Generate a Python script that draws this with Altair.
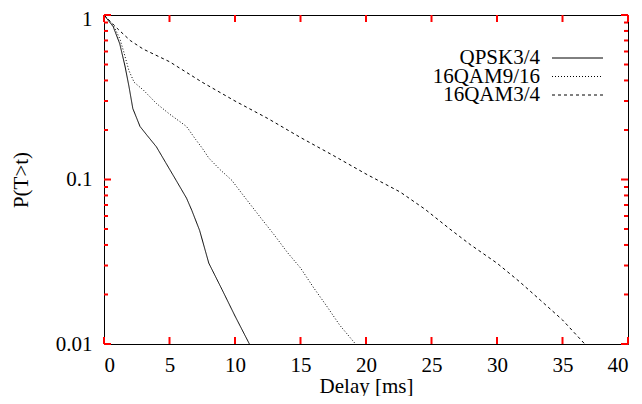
import altair as alt
import pandas as pd

series = ["QPSK3/4", "16QAM9/16", "16QAM3/4"]

qpsk_t = [0, 0.7, 1.2, 1.6, 1.9, 2.2, 2.75, 3.3, 4.0, 4.7, 5.5, 6.3, 6.7, 7.3, 8.0, 9.0, 10.0, 11.1]
qpsk_p = [1, 0.85, 0.67, 0.49, 0.37, 0.27, 0.21, 0.185, 0.158, 0.127, 0.099, 0.077, 0.065, 0.049, 0.031, 0.0215, 0.0148, 0.01]

q916_t = [0, 0.7, 1.2, 1.5, 1.9, 2.3, 3.0, 4.0, 5.0, 6.3, 7.0, 7.5, 8.0, 8.85, 9.75, 10.8, 12, 13, 14, 15, 16, 17, 18, 19.2]
q916_p = [1, 0.87, 0.72, 0.6, 0.46, 0.39, 0.35, 0.29, 0.25, 0.21, 0.175, 0.155, 0.135, 0.115, 0.099, 0.077, 0.058, 0.046, 0.036, 0.029, 0.022, 0.017, 0.013, 0.01]

q34_t = [0, 1, 2, 3, 5, 7.5, 10, 12.5, 15, 17.5, 20, 22.6, 24.5, 26.4, 28, 30, 31.7, 33.3, 35, 36.7]
q34_p = [1, 0.83, 0.70, 0.62, 0.52, 0.39, 0.30, 0.235, 0.18, 0.14, 0.108, 0.084, 0.066, 0.050, 0.040, 0.031, 0.024, 0.0185, 0.014, 0.01]

x_ticks = [0, 5, 10, 15, 20, 25, 30, 35, 40]
y_major = [0.01, 0.1, 1]
y_minor = [0.02, 0.03, 0.04, 0.05, 0.06, 0.07, 0.08, 0.09,
           0.2, 0.3, 0.4, 0.5, 0.6, 0.7, 0.8, 0.9]

dashes = [[1, 0], [1, 2], [3, 3]]

rows = []
for name, ts, ps in zip(series, [qpsk_t, q916_t, q34_t], [qpsk_p, q916_p, q34_p]):
    for t, p in zip(ts, ps):
        rows.append({"series": name, "t": t, "p": p})
df = pd.DataFrame(rows)

FONT = "Liberation Serif"
FS = 21
W, H = 524, 329
MAJ, MIN = 7, 4

xscale = alt.Scale(domain=[0, 40], nice=False, zero=False)
yscale = alt.Scale(type="log", domain=[0.01, 1], nice=False)

common = dict(domain=False, grid=False, ticks=False, tickSize=0,
              labelFont=FONT, labelFontSize=FS, labelColor="black",
              titleFont=FONT, titleFontSize=FS, titleColor="black",
              titleFontWeight="normal")

lines = alt.Chart(df).mark_line(color="black", strokeWidth=1, clip=True).encode(
    x=alt.X("t:Q", scale=xscale,
            axis=alt.Axis(orient="bottom", values=x_ticks, labelPadding=10,
                          title="Delay [ms]", titlePadding=0, **common)),
    y=alt.Y("p:Q", scale=yscale,
            axis=alt.Axis(orient="left", values=y_major, format="~g",
                          labelPadding=12, title="P(T>t)", titlePadding=24,
                          labelOffset={"condition": {"test": "datum.value >= 1", "value": 4},
                                       "value": 0},
                          **common)),
    strokeDash=alt.StrokeDash("series:N", scale=alt.Scale(domain=series, range=dashes),
                              legend=None),
)

xt_df = pd.DataFrame({"v": x_ticks})
ymaj_df = pd.DataFrame({"v": y_major})
ymin_df = pd.DataFrame({"v": y_minor})

TICK_COLOR = "red"


def xtick(y0, y1):
    return alt.Chart(xt_df).mark_rule(color=TICK_COLOR, strokeWidth=2).encode(
        x=alt.X("v:Q", scale=xscale, axis=None), y=alt.value(y0), y2=alt.value(y1))


def ytick(src, x0, x1):
    return alt.Chart(src).mark_rule(color=TICK_COLOR, strokeWidth=2).encode(
        y=alt.Y("v:Q", scale=yscale, axis=None), x=alt.value(x0), x2=alt.value(x1))


tick_layers = [
    xtick(H, H - MAJ), xtick(0, MAJ),
    ytick(ymaj_df, 0, MAJ), ytick(ymin_df, 0, MIN),
    ytick(ymaj_df, W, W - MAJ), ytick(ymin_df, W, W - MIN),
]

legend_layers = []
for i, (name, dash) in enumerate(zip(series, dashes)):
    yy = 43 + i * 18.5
    legend_layers.append(
        alt.Chart(pd.DataFrame({"label": [name]})).mark_text(
            align="right", baseline="middle", font=FONT, fontSize=FS, color="black"
        ).encode(text="label:N", x=alt.value(436), y=alt.value(yy))
    )
    legend_layers.append(
        alt.Chart(pd.DataFrame({"label": [name]})).mark_rule(
            color="black", strokeWidth=1, strokeDash=dash
        ).encode(x=alt.value(448), x2=alt.value(499), y=alt.value(yy))
    )

chart = alt.layer(lines, *tick_layers, *legend_layers).resolve_axis(
    x="independent", y="independent"
).properties(
    width=W, height=H,
    autosize=alt.AutoSizeParams(type="none"),
    padding={"left": 96, "top": 7, "right": 6, "bottom": 52},
    background="white",
).configure_view(stroke="black", strokeWidth=1)

chart.save("out.html", embed_options={"renderer": "svg", "actions": False})
